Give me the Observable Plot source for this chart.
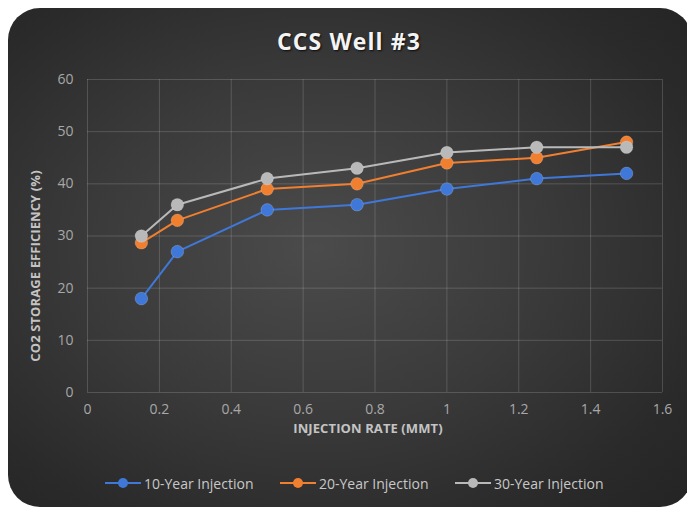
<!DOCTYPE html>
<html>
<head>
<meta charset="utf-8">
<script src="https://cdn.jsdelivr.net/npm/d3@7"></script>
<script src="https://cdn.jsdelivr.net/npm/@observablehq/plot@0.6"></script>
<style>
  html, body { margin: 0; padding: 0; background: #ffffff; }
  body { position: relative; width: 687px; height: 510px; overflow: hidden; font-family: "Open Sans", sans-serif; }
  #panel {
    position: absolute; left: 8px; top: 8px; width: 684px; height: 499px;
    border-radius: 32px;
    background: radial-gradient(ellipse 75% 75% at 45% 48%, #4b4b4b 0%, #3a3a3a 45%, #2a2a2a 80%, #242424 100%);
  }
  #title {
    position: absolute; left: 0; width: 698px; top: 25px; text-align: center;
    color: #f4f4f4; font-size: 23px; font-weight: 700; letter-spacing: 1.1px;
    text-shadow: 1px 1px 2px rgba(0,0,0,0.8);
  }
  #chart { position: absolute; left: 0; top: 60px; }
  .axis-title { position: absolute; color: #c4c4c4; font-size: 13px; font-weight: 700; white-space: nowrap; letter-spacing: 0.1px; }
  #xtitle { left: 368px; top: 428px; transform: translate(-50%, -50%); }
  #ytitle { left: 35px; top: 266px; transform: translate(-50%, -50%) rotate(-90deg); }
  #legend { position: absolute; top: 473px; left: 0; width: 100%; height: 20px; }
  .item { position: absolute; display: flex; align-items: center; color: #c8c8c8; font-size: 14px; white-space: nowrap; }
  .item svg { margin-right: 3px; }
</style>
</head>
<body>
<div id="panel"></div>
<div id="title">CCS Well #3</div>
<div id="chart"></div>
<div class="axis-title" id="xtitle">INJECTION RATE (MMT)</div>
<div class="axis-title" id="ytitle">CO2 STORAGE EFFICIENCY (%)</div>
<div id="legend"></div>
<script>
// Injection rates (MMT) and CO2 storage efficiency (%) for each injection period
const rates = [0.15, 0.25, 0.5, 0.75, 1, 1.25, 1.5];
const year10 = [18, 27, 35, 36, 39, 41, 42];
const year20 = [28.7, 33, 39, 40, 44, 45, 48];
const year30 = [30, 36, 41, 43, 46, 47, 47];

const seriesNames = ["10-Year Injection", "20-Year Injection", "30-Year Injection"];
const seriesColors = ["#3f78d8", "#f07f30", "#b9b9b9"];

const xTicks = [0, 0.2, 0.4, 0.6, 0.8, 1, 1.2, 1.4, 1.6];
const yTicks = [0, 10, 20, 30, 40, 50, 60];

// Long-format table for Plot
const rows = [year10, year20, year30].flatMap((vals, s) =>
  vals.map((v, i) => ({series: seriesNames[s], rate: rates[i], eff: v}))
);

const grid = {stroke: "#ffffff", strokeOpacity: 0.16, strokeWidth: 1};

const chart = Plot.plot({
  width: 687,
  height: 380,
  marginLeft: 87,
  marginRight: 25,
  marginTop: 19,
  marginBottom: 48,
  style: {background: "transparent", fontFamily: "'Open Sans', sans-serif", fontSize: "14px", color: "#a8a8a8"},
  x: {domain: [0, 1.6]},
  y: {domain: [0, 60]},
  color: {domain: seriesNames, range: seriesColors},
  marks: [
    Plot.gridX(xTicks, grid),
    Plot.gridY(yTicks, grid),
    Plot.axisX(xTicks, {tickSize: 0, tickPadding: 12, tickFormat: d => String(d), label: null, fill: "#a8a8a8"}),
    Plot.axisY(yTicks, {tickSize: 0, tickPadding: 14, tickFormat: d => String(d), label: null, fill: "#a8a8a8"}),
    Plot.line(rows, {x: "rate", y: "eff", z: "series", stroke: "series", strokeWidth: 2}),
    Plot.dot(rows, {x: "rate", y: "eff", fill: "series", r: 6.3, stroke: "#ffffff", strokeOpacity: 0.18, strokeWidth: 1})
  ]
});
document.getElementById("chart").appendChild(chart);

// Legend: line-and-marker swatches
const legend = document.getElementById("legend");
const itemLeft = [105, 280, 455];
seriesNames.forEach((name, i) => {
  const item = document.createElement("div");
  item.className = "item";
  item.style.left = itemLeft[i] + "px";
  item.innerHTML =
    `<svg width="36" height="20"><line x1="0" y1="10" x2="36" y2="10" stroke="${seriesColors[i]}" stroke-width="2"/>` +
    `<circle cx="18" cy="10" r="5" fill="${seriesColors[i]}"/></svg><span>${name}</span>`;
  legend.appendChild(item);
});
</script>
</body>
</html>
